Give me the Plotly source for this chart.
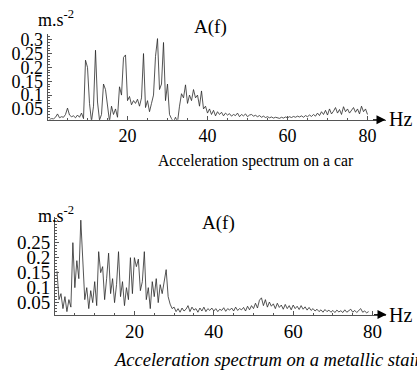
import plotly.graph_objects as go

W, H = 417, 372

# ---------------- data ----------------
FREQ_START = 0.5   # Hz
FREQ_STEP = 0.5    # Hz

car_accel = [
    0.012, 0.015, 0.014, 0.020, 0.032, 0.018, 0.022, 0.020, 0.030, 0.053,
    0.028, 0.022, 0.025, 0.018, 0.028, 0.020, 0.035, 0.015, 0.226, 0.200,
    0.070, 0.005, 0.060, 0.262, 0.075, 0.010, 0.030, 0.140, 0.120, 0.050,
    0.005, 0.060, 0.030, 0.050, 0.020, 0.130, 0.100, 0.236, 0.245, 0.080,
    0.095, 0.065, 0.080, 0.070, 0.085, 0.060, 0.090, 0.250, 0.055, 0.080,
    0.040, 0.070, 0.100, 0.240, 0.304, 0.120, 0.140, 0.290, 0.080, 0.140,
    0.030, 0.015, 0.004, 0.020, 0.002, 0.060, 0.105, 0.090, 0.137, 0.070,
    0.100, 0.080, 0.120, 0.090, 0.100, 0.060, 0.115, 0.050, 0.060, 0.035,
    0.050, 0.030, 0.045, 0.025, 0.040, 0.030, 0.038, 0.025, 0.035, 0.028,
    0.033, 0.024, 0.030, 0.026, 0.035, 0.022, 0.030, 0.025, 0.032, 0.022,
    0.028, 0.030, 0.024, 0.027, 0.022, 0.026, 0.020, 0.024, 0.019, 0.022,
    0.018, 0.021, 0.017, 0.020, 0.018, 0.016, 0.020, 0.017, 0.021, 0.018,
    0.022, 0.019, 0.023, 0.020, 0.024, 0.021, 0.025, 0.020, 0.026, 0.022,
    0.028, 0.023, 0.030, 0.024, 0.035, 0.026, 0.040, 0.030, 0.045, 0.028,
    0.050, 0.032, 0.042, 0.055, 0.035, 0.048, 0.030, 0.058, 0.040, 0.050,
    0.035, 0.045, 0.055, 0.038, 0.050, 0.032, 0.060, 0.040, 0.050, 0.030,
]

stair_accel = [
    0.155, 0.060, 0.080, 0.030, 0.070, 0.020, 0.060, 0.035, 0.250, 0.100,
    0.190, 0.130, 0.325, 0.200, 0.060, 0.100, 0.030, 0.090, 0.050, 0.120,
    0.040, 0.220, 0.150, 0.170, 0.060, 0.130, 0.215, 0.080, 0.130, 0.050,
    0.110, 0.220, 0.070, 0.120, 0.040, 0.100, 0.060, 0.200, 0.080, 0.200,
    0.170, 0.195, 0.090, 0.120, 0.220, 0.060, 0.100, 0.030, 0.120, 0.070,
    0.130, 0.050, 0.110, 0.080, 0.120, 0.160, 0.070, 0.045, 0.030, 0.035,
    0.020, 0.030, 0.018, 0.032, 0.022, 0.028, 0.040, 0.020, 0.035, 0.025,
    0.030, 0.018, 0.032, 0.022, 0.035, 0.020, 0.030, 0.024, 0.032, 0.022,
    0.030, 0.020, 0.028, 0.024, 0.033, 0.021, 0.030, 0.025, 0.032, 0.022,
    0.035, 0.024, 0.030, 0.026, 0.034, 0.022, 0.038, 0.026, 0.040, 0.030,
    0.048, 0.032, 0.058, 0.066, 0.040, 0.060, 0.035, 0.052, 0.038, 0.046,
    0.030, 0.048, 0.034, 0.042, 0.028, 0.044, 0.030, 0.040, 0.026, 0.042,
    0.030, 0.038, 0.027, 0.040, 0.028, 0.036, 0.025, 0.034, 0.024, 0.030,
    0.022, 0.028, 0.020, 0.026, 0.018, 0.027, 0.020, 0.025, 0.018, 0.024,
    0.017, 0.025, 0.019, 0.023, 0.017, 0.026, 0.018, 0.022, 0.028, 0.018,
    0.024, 0.017, 0.022, 0.030, 0.018, 0.022, 0.016, 0.020,
]

x_tick_vals = [20, 40, 60, 80]
x_tick_text = ["20", "40", "60", "80"]
car_y_ticks = [0.05, 0.1, 0.15, 0.2, 0.25, 0.3]
car_y_text = ["0.05", "0.1", "0.15", "0.2", "0.25", "0.3"]
stair_y_ticks = [0.05, 0.1, 0.15, 0.2, 0.25]
stair_y_text = ["0.05", "0.1", "0.15", "0.2", "0.25"]

unit_label = "m.s<sup>-2</sup>"
amp_label = "A(f)"
freq_unit = "Hz"
car_caption = "Acceleration spectrum on a car"
stair_caption = "<i>Acceleration spectrum on a metallic stair</i>"

# ---------------- layout helpers ----------------
def pxx(p):
    return p / W

def pxy(p):
    return 1 - p / H

SERIF = "Liberation Serif, Times New Roman, serif"
LINE = "#2a2a2a"
AXC = "#555555"

car_xrange = [0, 84.5]
car_yrange = [0.011, 0.32]
stair_xrange = [0, 83.5]
stair_yrange = [0.010, 0.335]

fig = go.Figure()
fig.add_trace(go.Scatter(y=car_accel, x0=FREQ_START, dx=FREQ_STEP, mode="lines",
                         line=dict(color=LINE, width=0.8), xaxis="x", yaxis="y",
                         showlegend=False, hoverinfo="skip"))
fig.add_trace(go.Scatter(y=stair_accel, x0=FREQ_START, dx=FREQ_STEP, mode="lines",
                         line=dict(color=LINE, width=0.8), xaxis="x2", yaxis="y2",
                         showlegend=False, hoverinfo="skip"))

def xax(domain, rng, anchor, size):
    return dict(domain=domain, range=rng, anchor=anchor, showgrid=False, zeroline=False,
                showline=True, linecolor=AXC, linewidth=1,
                tickvals=x_tick_vals, ticktext=x_tick_text, ticks="inside", ticklen=4,
                tickcolor=AXC, tickfont=dict(family=SERIF, size=size, color="black"),
                minor=dict(tickmode="linear", tick0=0, dtick=5, ticks="inside", ticklen=2,
                           tickcolor=AXC),
                fixedrange=True)

def yax(domain, rng, anchor, vals, text, size):
    return dict(domain=domain, range=rng, anchor=anchor, showgrid=False, zeroline=False,
                showline=True, linecolor=AXC, linewidth=1,
                tickvals=vals, ticktext=text, ticks="inside", ticklen=4, tickcolor=AXC,
                tickfont=dict(family=SERIF, size=size, color="black"),
                ticklabelstandoff=0,
                minor=dict(tickmode="linear", tick0=0, dtick=0.01, ticks="inside",
                           ticklen=2, tickcolor=AXC),
                fixedrange=True)

fig.update_layout(
    width=W, height=H,
    margin=dict(l=0, r=0, t=0, b=0),
    paper_bgcolor="white", plot_bgcolor="white",
    xaxis=xax([pxx(47.5), pxx(47.5 + 4 * car_xrange[1])], car_xrange, "y", 18),
    yaxis=yax([pxy(117), pxy(30.5)], car_yrange, "x", car_y_ticks, car_y_text, 18),
    xaxis2=xax([pxx(55), pxx(55 + 3.97 * stair_xrange[1])], stair_xrange, "y2", 19),
    yaxis2=yax([pxy(314), pxy(215.5)], stair_yrange, "x2", stair_y_ticks, stair_y_text, 19),
    showlegend=False,
)

ann = []
# arrows on x axes
for xr, yr, xa, ya in [(car_xrange, car_yrange, "x", "y"), (stair_xrange, stair_yrange, "x2", "y2")]:
    ann.append(dict(x=xr[1], y=yr[0], xref=xa, yref=ya, text="", showarrow=True,
                    ax=-14, ay=0, arrowhead=2, arrowsize=1.8, arrowwidth=1,
                    arrowcolor="black", standoff=0))

def paper_text(text, x, y, size, xanchor="left"):
    return dict(x=pxx(x), y=pxy(y), xref="paper", yref="paper", text=text, showarrow=False,
                xanchor=xanchor, yanchor="middle", font=dict(family=SERIF, size=size, color="black"))

ann += [
    paper_text(freq_unit, 387, 116, 20),
    paper_text(freq_unit, 387, 314, 20),
    paper_text(unit_label, 36, 15, 18),
    paper_text(amp_label, 192, 23, 19),
    paper_text(car_caption, 156, 159, 15.7),
    paper_text(unit_label, 36, 213, 18),
    paper_text(amp_label, 200, 221, 19),
    paper_text(stair_caption, 111, 360, 18.5),
]
fig.update_layout(annotations=ann)

fig.write_html("out.html", config={"displayModeBar": False},
               post_script="document.body.style.margin='0';")
